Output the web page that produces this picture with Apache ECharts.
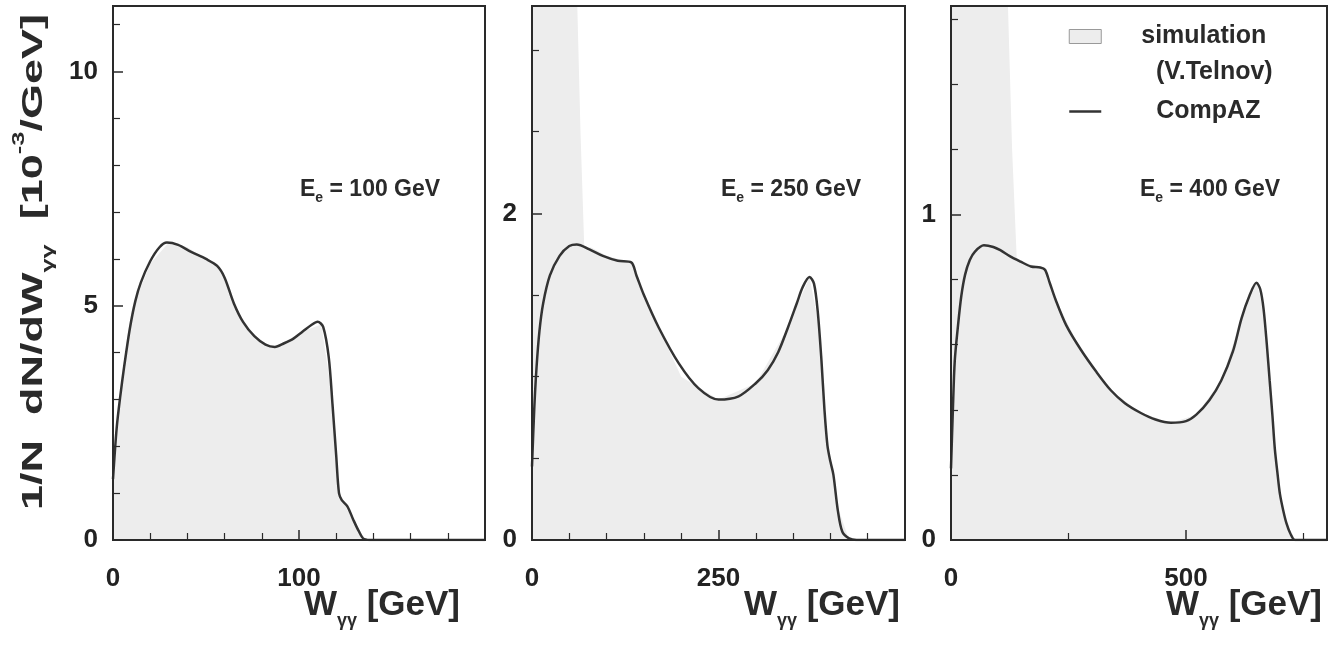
<!DOCTYPE html>
<html><head><meta charset="utf-8">
<script src="https://cdn.jsdelivr.net/npm/echarts@6/dist/echarts.min.js"></script>
<style>html,body{margin:0;padding:0;background:#fff}#c{width:1336px;height:645px}</style>
</head><body><div id="c"></div>
<script>
// ---------- DATA ----------
// CompAZ curves: W_gg [GeV] and 1/N dN/dW [10^-3/GeV]
const wA1 = [0,2,4,6,9,12,15,20,25,29,35,42,50,56,60,65,70,76,82,87,92,97,102,107,110,113,116,118,120,121.5,123,126,129,132,135,140,200];
const vA1 = [1.3,2.4,3.1,3.7,4.5,5.1,5.5,5.95,6.25,6.35,6.3,6.15,6.0,5.85,5.6,5.05,4.65,4.35,4.17,4.12,4.2,4.3,4.45,4.6,4.66,4.55,3.9,2.9,1.8,1.0,0.85,0.72,0.45,0.2,0.02,0,0];
const wA2 = [0,3,6,10,15,24,37,50,60,77,95,115,133,140,150,170,197,223,250,277,300,316,330,343,355,363,372,378,383,388,392,396,400,404,410,416,425,435,500];
const vA2 = [0.45,0.8,1.05,1.28,1.45,1.62,1.74,1.8,1.81,1.78,1.74,1.71,1.7,1.62,1.5,1.3,1.08,0.93,0.86,0.88,0.96,1.04,1.15,1.3,1.45,1.55,1.61,1.57,1.4,1.1,0.8,0.58,0.48,0.4,0.18,0.05,0.01,0,0];
const wA3 = [0,4,8,15,22,30,40,51,70,90,105,125,148,170,190,200,210,222,245,276,310,340,370,404,435,468,500,522,550,575,600,618,635,650,658,665,672,678,684,689,695,700,707,714,722,732,800];
const vA3 = [0.22,0.4,0.55,0.66,0.75,0.815,0.86,0.886,0.905,0.9,0.89,0.872,0.855,0.84,0.837,0.83,0.79,0.74,0.66,0.585,0.515,0.46,0.42,0.39,0.37,0.36,0.365,0.385,0.43,0.49,0.58,0.68,0.75,0.79,0.77,0.71,0.6,0.49,0.38,0.28,0.2,0.14,0.09,0.05,0.02,0,0];
// Simulation (V.Telnov) histograms
const wS1 = [0,5,10,20,30,40,50,58,65,75,85,95,105,112,118,121,124,130,136];
const vS1 = [1.2,3.6,4.9,5.9,6.35,6.25,6.0,5.8,5.0,4.4,4.1,4.25,4.5,4.6,3.0,0.9,0.8,0.35,0];
const wS2 = [0,10,20,30,40,50,60,65,70,80,100,133,150,200,250,300,343,372,385,396,410,425];
const vS2 = [3.4,3.4,3.4,3.4,3.4,3.4,3.4,2.5,1.8,1.79,1.74,1.7,1.5,1.0,0.86,0.96,1.3,1.61,1.3,0.6,0.2,0];
const wS3 = [0,25,50,75,100,120,130,140,190,200,222,276,340,404,468,522,575,618,650,665,684,700,714,732];
const vS3 = [1.7,1.7,1.7,1.7,1.7,1.7,1.2,0.86,0.837,0.83,0.74,0.585,0.46,0.39,0.36,0.385,0.49,0.68,0.79,0.71,0.38,0.14,0.05,0];
// axes
const xMax = [200, 500, 800];
const xInterval = [100, 250, 500];
const xMinor = [5, 5, 2];
const yMax = [11.4, 3.27, 1.64];
const yInterval = [5, 2, 1];
const yMinor = [5, 4, 5];
const beamLabels = ['100', '250', '400'];

// ---------- CHART ----------
const FONT = 'Liberation Sans, Arial, sans-serif';
const INK = '#2a2a2a';
const chart = echarts.init(document.getElementById('c'), null, {renderer: 'canvas'});
const gridPos = [{left:113, top:6, width:372, height:534},{left:532, top:6, width:373, height:534},{left:951, top:6, width:376, height:534}];
const pairs = (w, v) => w.map((x, i) => [x, v[i]]);
const curves = [pairs(wA1, vA1), pairs(wA2, vA2), pairs(wA3, vA3)];
const sims = [pairs(wS1, vS1), pairs(wS2, vS2), pairs(wS3, vS3)];

const grids = gridPos.map(g => Object.assign({show:true, borderColor:INK, borderWidth:2, backgroundColor:'transparent', z:6}, g));
const axisCommon = {
  z:8,
  axisLine:{show:true, onZero:false, lineStyle:{color:INK, width:2}},
  axisTick:{show:true, inside:true, length:10, lineStyle:{color:INK, width:1.5}},
  splitLine:{show:false},
  axisLabel:{fontFamily:FONT, fontWeight:'bold', fontSize:26, color:'#222', showMaxLabel:false}
};
const xAxes = [0,1,2].map(i => echarts.util.merge({
  type:'value', gridIndex:i, min:0, max:xMax[i], interval:xInterval[i],
  minorTick:{show:true, splitNumber:xMinor[i], length:7, lineStyle:{color:INK, width:1.2}},
  axisLabel:{margin:26}
}, axisCommon, false));
const yAxes = [0,1,2].map(i => echarts.util.merge({
  type:'value', gridIndex:i, min:0, max:yMax[i], interval:yInterval[i],
  minorTick:{show:true, splitNumber:yMinor[i], length:7, lineStyle:{color:INK, width:1.2}},
  axisLabel:{margin:15}
}, axisCommon, false));

const series = [];
for (let i = 0; i < 3; i++) {
  series.push({name:'simulation', type:'line', xAxisIndex:i, yAxisIndex:i, data:sims[i], symbol:'none',
    lineStyle:{width:0, color:'#e6e6e6'}, itemStyle:{color:'#ececec'}, areaStyle:{color:'#ededed', opacity:1}, silent:true, z:1});
  series.push({name:'CompAZ', type:'line', xAxisIndex:i, yAxisIndex:i, data:curves[i], symbol:'none', smooth:0.3,
    lineStyle:{width:2.5, color:'#333'}, itemStyle:{color:'#333'}, z:3});
}

const graphics = [];
graphics.push({type:'text', x:34, y:262, rotation:Math.PI/2, scaleX:1.5, scaleY:1, style:{
  text:'{m|1/N  dN/dW}{s|γγ}{m|  [10}{p|-3}{m|/GeV]}', align:'center', verticalAlign:'middle',
  rich:{
    s:{fontFamily:FONT, fontWeight:'bold', fontSize:17, lineHeight:16, verticalAlign:'bottom', fill:INK},
    p:{fontFamily:FONT, fontWeight:'bold', fontSize:17, lineHeight:16, verticalAlign:'top', fill:INK},
    m:{fontFamily:FONT, fontWeight:'bold', fontSize:30, lineHeight:46, fill:INK}
  }}});
const xNameRight = [460, 900, 1322];
xNameRight.forEach(xr => graphics.push({type:'text', x:xr, y:605, style:{
  text:'{m|W}{s|γγ}{m| [GeV]}', align:'right', verticalAlign:'middle',
  rich:{m:{fontFamily:FONT, fontWeight:'bold', fontSize:35, lineHeight:50, fill:INK},
        s:{fontFamily:FONT, fontWeight:'bold', fontSize:18, lineHeight:14, verticalAlign:'bottom', fill:INK}}}}));
const eLeft = [300, 721, 1140];
eLeft.forEach((xl, i) => graphics.push({type:'text', x:xl, y:190, style:{
  text:'{m|E}{s|e}{m| = ' + beamLabels[i] + ' GeV}', align:'left', verticalAlign:'middle',
  rich:{m:{fontFamily:FONT, fontWeight:'bold', fontSize:23, lineHeight:30, fill:INK},
        s:{fontFamily:FONT, fontWeight:'bold', fontSize:14, lineHeight:10, verticalAlign:'bottom', fill:INK}}}}));
graphics.push({type:'text', x:1156, y:72, style:{text:'(V.Telnov)', font:'bold 25px ' + FONT, fill:INK, align:'left', verticalAlign:'middle'}});

chart.setOption({
  animation:false,
  backgroundColor:'#fff',
  grid:grids, xAxis:xAxes, yAxis:yAxes, series:series,
  legend:{show:true, orient:'vertical', left:1068, top:24, padding:0, itemWidth:32, itemHeight:14, itemGap:50,
    data:[
      {name:'simulation', icon:'rect', itemStyle:{color:'#ededed', borderColor:'#999', borderWidth:1}, textStyle:{padding:[0,0,0,35]}},
      {name:'CompAZ', itemStyle:{opacity:0}, lineStyle:{color:'#333', width:2.5}, textStyle:{padding:[0,0,0,50]}}
    ],
    textStyle:{fontFamily:FONT, fontWeight:'bold', fontSize:25, color:INK}
  },
  graphic:graphics
});
</script></body></html>
